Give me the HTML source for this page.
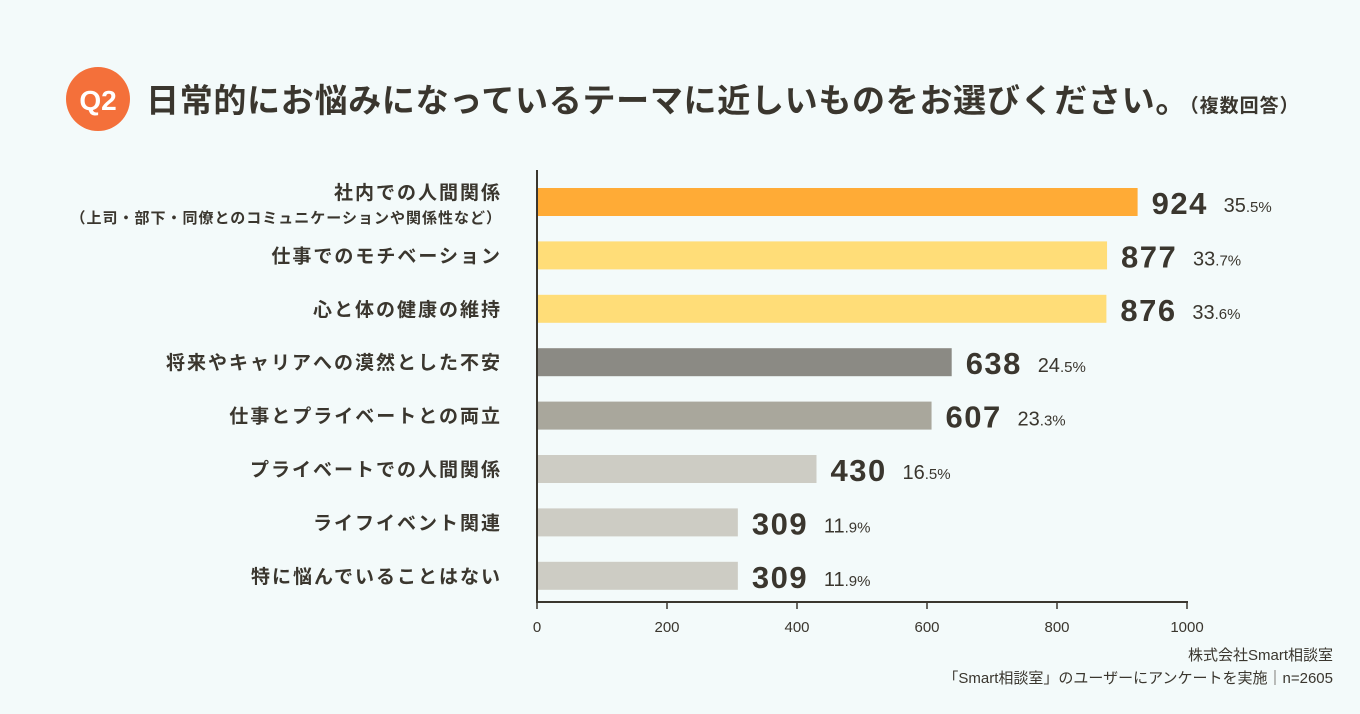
<!DOCTYPE html>
<html><head><meta charset="utf-8"><style>
html,body{margin:0;padding:0;background:#f3fafa;}
svg{display:block;font-family:"Liberation Sans","Noto Sans CJK JP",sans-serif;}
</style></head><body>
<svg id="chart" width="1360" height="714" viewBox="0 0 1360 714">
<rect width="1360" height="714" fill="#f3fafa"/>
<circle cx="98" cy="99" r="32" fill="#f4703a"/>
<text x="98" y="110" text-anchor="middle" font-size="28" font-weight="bold" fill="#fff">Q2</text>
<text x="146" y="112" font-size="33" font-weight="bold" fill="#3a362e" letter-spacing="0.7">日常的にお悩みになっているテーマに近しいものをお選びください。<tspan font-size="19" letter-spacing="1">（複数回答）</tspan></text>
<g id="bars"></g>
<g id="axis"></g>
<text x="1333" y="660" text-anchor="end" font-size="15" fill="#3a362e">株式会社Smart相談室</text>
<text x="1333" y="683" text-anchor="end" font-size="15" fill="#3a362e">「Smart相談室」のユーザーにアンケートを実施｜n=2605</text>
</svg>
<script>
const categories=["社内での人間関係","仕事でのモチベーション","心と体の健康の維持","将来やキャリアへの漠然とした不安","仕事とプライベートとの両立","プライベートでの人間関係","ライフイベント関連","特に悩んでいることはない"];
const values=[924,877,876,638,607,430,309,309];
const percents=["35.5","33.7","33.6","24.5","23.3","16.5","11.9","11.9"];
const ticks=[0,200,400,600,800,1000];
const colors=["#ffab36","#ffdd78","#ffdd78","#8b8a84","#a9a79c","#cdccc4","#cdccc4","#cdccc4"];
const NS="http://www.w3.org/2000/svg";
const x0=537,x1=1187,vmax=1000;
const xs=v=>x0+(x1-x0)*v/vmax;
const yc=i=>202+i*53.4;
function mk(tag,attrs,parent,text){const e=document.createElementNS(NS,tag);for(const k in attrs)e.setAttribute(k,attrs[k]);if(text!==undefined)e.textContent=text;parent.appendChild(e);return e;}
const gb=document.getElementById('bars'),ga=document.getElementById('axis');
categories.forEach((c,i)=>{
  const y=yc(i);
  const r=mk('rect',{x:x0,y:y-14,width:xs(values[i])-x0,height:28,fill:colors[i]},gb);
  
  
  const lab=mk('text',{x:502,y:i===0?y-3:y+7,'text-anchor':'end','font-size':19,'letter-spacing':2,'font-weight':'bold',fill:'#3a362e'},gb,c);
  
  
  if(i===0){
    const sub=mk('text',{x:502,y:y+21,'text-anchor':'end','font-size':15,'letter-spacing':1,'font-weight':'bold',fill:'#3a362e'},gb,'（上司・部下・同僚とのコミュニケーションや関係性など）');
    
    
  }
  const vt=mk('text',{x:xs(values[i])+14,y:y+12,'font-size':31,'letter-spacing':1.5,'font-weight':'bold',fill:'#3a362e'},gb,String(values[i]));
  
  
  const pt=mk('text',{x:xs(values[i])+86,y:y+10,'font-size':20,fill:'#3a362e'},gb);
  
  
  const p=percents[i].split('.');
  mk('tspan',{},pt,p[0]);mk('tspan',{'font-size':15},pt,'.'+p[1]+'%');
});
const yl=mk('line',{x1:x0,y1:170,x2:x0,y2:602,stroke:'#3a362e','stroke-width':2},ga);


const xl=mk('line',{x1:x0-1,y1:602,x2:x1+1,y2:602,stroke:'#3a362e','stroke-width':2},ga);


ticks.forEach(t=>{
  const tk=mk('line',{x1:xs(t),y1:602,x2:xs(t),y2:609,stroke:'#3a362e','stroke-width':1.5},ga);
  
  
  const tl=mk('text',{x:xs(t),y:632,'text-anchor':'middle','font-size':15,fill:'#3a362e'},ga,String(t));
  
  
});
</script>
</body></html>
